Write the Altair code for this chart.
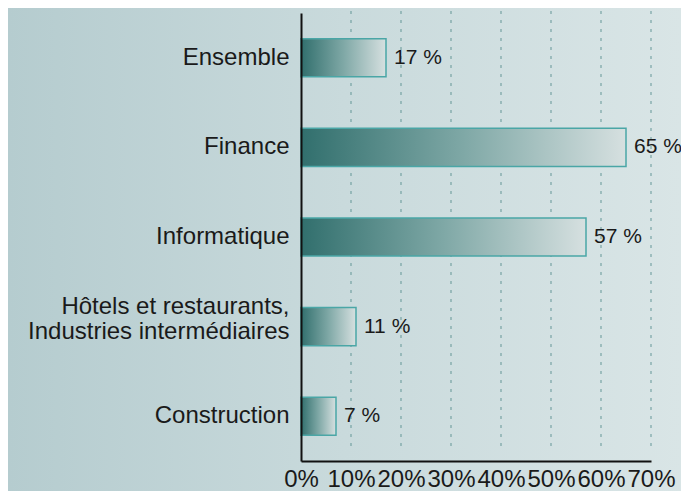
import altair as alt
import pandas as pd

categories = ["Ensemble", "Finance", "Informatique",
              "Hôtels et restaurants,|Industries intermédiaires", "Construction"]
values = [17, 65, 57, 11, 7]
x_ticks = [0, 10, 20, 30, 40, 50, 60, 70]

df = pd.DataFrame({"cat": categories, "value": values})
grid_df = pd.DataFrame({"value": x_ticks[1:]})
bg_df = pd.DataFrame({"k": [0]})

FONT = "Liberation Sans"
W, H = 350, 448
PL, PT, PR, PB = 293, 5, 30, 30

bg = alt.Chart(bg_df).mark_rect(
    fill=alt.LinearGradient(
        gradient="linear", x1=0, x2=1, y1=0, y2=0,
        stops=[alt.GradientStop(offset=0, color="#b5cccf"),
               alt.GradientStop(offset=0.5, color="#c9dadc"),
               alt.GradientStop(offset=1, color="#d9e5e6")]),
).encode(x=alt.value(-PL), x2=alt.value(W + PR), y=alt.value(-PT), y2=alt.value(H + PB))

x_scale = alt.Scale(domain=[0, 70], nice=False)

grid = alt.Chart(grid_df).mark_rule(
    color="#5a8f8f", strokeDash=[3, 6], strokeWidth=1, opacity=0.9
).encode(x=alt.X("value:Q", scale=x_scale), y=alt.value(-2), y2=alt.value(H - 10))

y_enc = alt.Y("cat:N", sort=categories, title=None,
              scale=alt.Scale(paddingInner=0.575, paddingOuter=0.2875),
              axis=alt.Axis(labelFontSize=24, labelFont=FONT, labelColor="#1a1a1a",
                            ticks=False, domainColor="#111111", domainWidth=2,
                            labelPadding=12, labelLimit=400, labelLineHeight=25,
                            labelExpr="split(datum.label, '|')", grid=False,
                            labelOffset={"condition": {"test": "indexof(datum.value, '|') >= 0",
                                                       "value": -20},
                                         "value": 0},
                            zindex=1))

x_enc = alt.X("value:Q", title=None, scale=x_scale,
              axis=alt.Axis(values=x_ticks, labelExpr="datum.value + '%'",
                            labelFontSize=24, labelFont=FONT, labelColor="#1a1a1a",
                            ticks=False, domainColor="#111111", domainWidth=2,
                            labelPadding=6, labelOverlap=False, labelFlush=False,
                            labelBound=False, grid=False, zindex=1))

bars = alt.Chart(df).mark_bar(
    fill=alt.LinearGradient(
        gradient="linear", x1=0, x2=1, y1=0, y2=0,
        stops=[alt.GradientStop(offset=0, color="#316f6d"),
               alt.GradientStop(offset=0.5, color="#7fa8a6"),
               alt.GradientStop(offset=1, color="#d6e0e0")]),
    stroke="#4aa6a6", strokeWidth=1.5,
).encode(x=x_enc, y=y_enc)

labels = alt.Chart(df).transform_calculate(
    lbl="datum.value + ' %'"
).mark_text(align="left", baseline="middle", dx=8, fontSize=21, font=FONT,
            color="#1a1a1a").encode(
    x="value:Q", y=alt.Y("cat:N", sort=categories), text="lbl:N")

chart = alt.layer(bg, grid, bars, labels).properties(
    width=W, height=H,
    autosize=alt.AutoSizeParams(type="none"),
    padding={"left": PL, "top": PT, "right": PR, "bottom": PB},
    background="#c9dadc",
).configure_view(stroke=None)

chart.save("out.html", embed_options={"renderer": "svg", "actions": False})
